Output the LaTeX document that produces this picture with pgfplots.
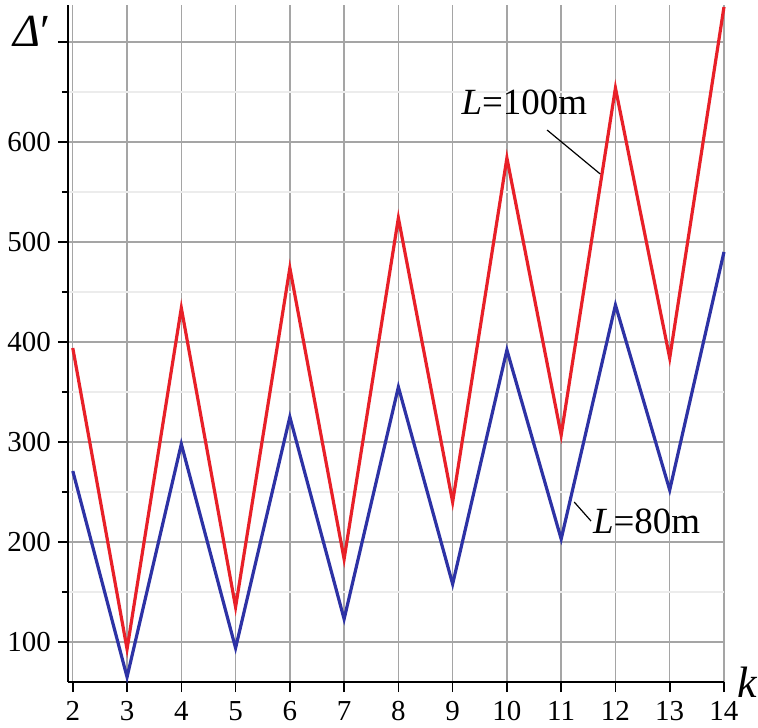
\documentclass[border=0pt]{standalone}
\usepackage{fontspec}
\setmainfont{Liberation Serif}
\usepackage{pgfplots}
\pgfplotsset{compat=1.18}
\definecolor{cred}{RGB}{232,32,40}
\definecolor{cblue}{RGB}{45,50,165}
\definecolor{cgrid}{RGB}{165,165,165}
\definecolor{cminor}{RGB}{236,236,236}
\begin{document}
\begin{tikzpicture}
\begin{axis}[
  scale only axis,
  width=328.5pt, height=339pt,
  xmin=1.91, xmax=14, ymin=60, ymax=737,
  axis lines*=left,
  axis line style={black, line width=1pt},
  xtick={2,...,14},
  ytick={100,200,...,700},
  yticklabels={100,200,300,400,500,600,},
  minor y tick num=1,
  grid=both,
  major grid style={cgrid, line width=0.7pt},
  minor grid style={cminor, line width=0.6pt},
  tick align=outside,
  major tick length=5pt,
  minor tick length=3pt,
  tick style={black, line width=0.8pt},
  tick label style={font=\fontsize{14.5}{17}\selectfont},
  /pgf/number format/assume math mode=true,
  xticklabel style={yshift=-1pt},
  clip=false,
]
\addplot[cred, line width=1.6pt] coordinates {
(2,394) (3,93) (4,434) (5,135) (6,474) (7,183) (8,524) (9,240) (10,584) (11,307) (12,654) (13,384) (14,735)};
\addplot[cblue, line width=1.6pt] coordinates {
(2,271) (3,65) (4,298) (5,94) (6,325) (7,123) (8,355) (9,158) (10,392) (11,203) (12,437) (13,252) (14,490)};
\draw[black, line width=0.6pt] (axis cs:10.74,612) -- (axis cs:11.72,568);
\node[font=\fontsize{18.5}{20}\selectfont] at (axis cs:10.32,640) {\textit{L}=100m};
\draw[black, line width=0.6pt] (axis cs:11.24,240) -- (axis cs:11.55,221);
\node[anchor=west, font=\fontsize{18.5}{20}\selectfont, inner sep=0pt] at (axis cs:11.58,221) {\textit{L}=80m};
\node[font=\fontsize{23}{25}\selectfont] at (rel axis cs:0,1) [xshift=-18pt, yshift=-13pt] {\textit{Δ}′};
\node[font=\fontsize{22}{24}\selectfont, inner sep=0pt] at (rel axis cs:1,0) [xshift=12pt, yshift=0pt] {\textit{k}};
\coordinate (bl) at (rel axis cs:0,0);
\coordinate (tr) at (rel axis cs:1,1);
\end{axis}
\path (bl) ++(-34pt,-22.5pt) coordinate (a);
\path (tr) ++(16.5pt,2.5pt) coordinate (b);
\path (a) rectangle (b);
\end{tikzpicture}
\end{document}
